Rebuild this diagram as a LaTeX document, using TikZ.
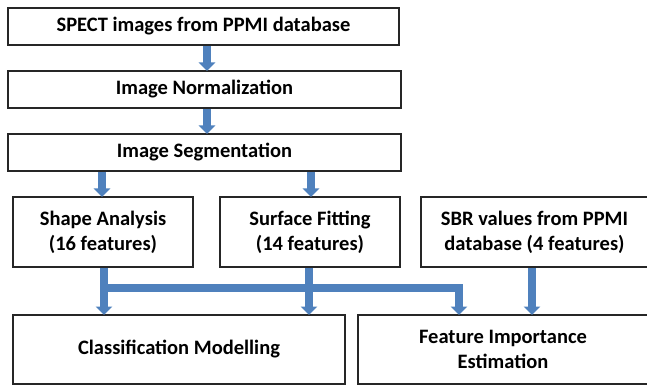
\documentclass[tikz,border=0pt]{standalone}
\usepackage{fontspec}
\setmainfont{Carlito}
\usetikzlibrary{arrows.meta}
\definecolor{arrblue}{HTML}{4F81BD}
\begin{document}
\begin{tikzpicture}[x=1pt,y=-1pt,
  box/.style={draw=black!85,line width=2pt,fill=white,inner sep=0pt,align=center,
    font=\fontsize{20.5}{25}\selectfont\bfseries},
  arr/.style={draw=arrblue,line width=7.5pt,
    -{Triangle[width=16pt,length=8.5pt]},shorten >=-1pt},
  bar/.style={draw=arrblue,line width=7.5pt,line join=miter}]
\useasboundingbox (0,0) rectangle (647,387);
\node[box,minimum width=391pt,minimum height=37pt] (spect) at (203.5,26.5) {SPECT images from PPMI database};
\node[box,minimum width=393pt,minimum height=37pt] (norm) at (204.5,89.5) {Image Normalization};
\node[box,minimum width=393pt,minimum height=37pt] (seg) at (204.5,152.5) {Image Segmentation};
\node[box,minimum width=180pt,minimum height=70pt] (shape) at (103,232) {Shape Analysis\\(16 features)};
\node[box,minimum width=180pt,minimum height=70pt] (surf) at (310,232) {Surface Fitting\\(14 features)};
\node[box,minimum width=227pt,minimum height=70pt] (sbr) at (534.5,232) {SBR values from PPMI\\database (4 features)};
\node[box,minimum width=332pt,minimum height=69pt] (cls) at (179,349.5) {Classification Modelling};
\node[box,minimum width=290pt,minimum height=69pt] (fie) at (503,349.5) {Feature Importance\\Estimation};
% arrows between stages
\draw[arr] (spect.south -| 207,0) -- (norm.north -| 207,0);
\draw[arr] (norm.south -| 207,0) -- (seg.north -| 207,0);
\draw[arr] (seg.south -| 102,0) -- (shape.north -| 102,0);
\draw[arr] (seg.south -| 311,0) -- (surf.north -| 311,0);
% feature connectors
\coordinate (barL) at (104,288);
\coordinate (barR) at (459,288);
\draw[arr] (shape.south -| barL) -- (cls.north -| barL);
\draw[arr] (surf.south -| 309,0) -- (cls.north -| 309,0);
\draw[bar] (barL) -- (barR);
\draw[arr] ([yshift=3.75pt]barR) -- (fie.north -| barR);
\draw[arr] (sbr.south -| 532,0) -- (fie.north -| 532,0);
\end{tikzpicture}
\end{document}
